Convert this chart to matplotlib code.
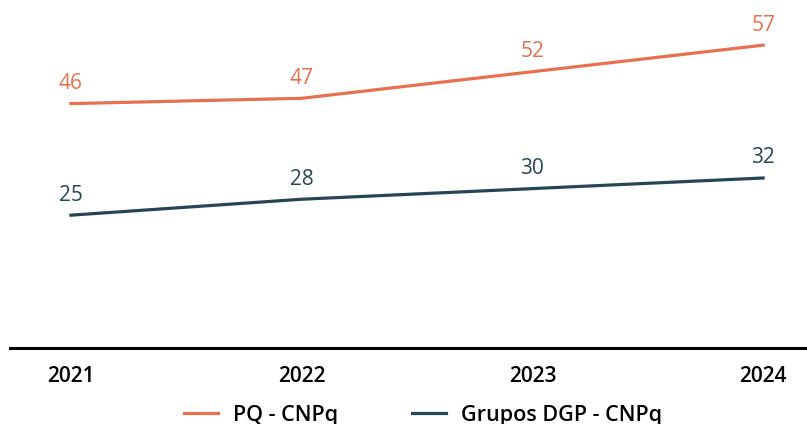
import numpy as np
import matplotlib.pyplot as plt

plt.rcParams['font.family'] = ['Open Sans', 'DejaVu Sans']

years = ["2021", "2022", "2023", "2024"]
pq = [46, 47, 52, 57]
dgp = [25, 28, 30, 32]

orange = "#E8704F"
navy = "#274655"

fig = plt.figure(figsize=(8.07, 4.24), dpi=100)
ax = fig.add_axes([10/807, 1 - 348/424, 1 - 10/807, 348/424])

x = np.arange(len(years))
ax.plot(x, pq, color=orange, lw=2.3, label="PQ - CNPq")
ax.plot(x, dgp, color=navy, lw=2.3, label="Grupos DGP - CNPq")

for i in range(len(years)):
    ax.annotate(str(pq[i]), (x[i], pq[i]), xytext=(0, 14.5), textcoords="offset points",
                ha="center", va="center", color=orange, fontsize=15, fontweight="medium")
    ax.annotate(str(dgp[i]), (x[i], dgp[i]), xytext=(0, 14.5), textcoords="offset points",
                ha="center", va="center", color=navy, fontsize=15, fontweight="medium")

ax.set_xlim(-0.264, 3.19)
ax.set_ylim(0, 65.5)
ax.set_xticks(x)
ax.set_xticklabels(years, fontsize=15, fontweight="semibold", color="black")
ax.tick_params(axis="x", length=0, pad=13)
ax.set_yticks([])
for s in ["top", "right", "left"]:
    ax.spines[s].set_visible(False)
ax.spines["bottom"].set_linewidth(2.2)
ax.spines["bottom"].set_color("black")

fig.legend(loc="center", bbox_to_anchor=(423/807, 1 - 415/424), ncol=2, frameon=False,
           prop={"size": 15.5, "weight": "semibold"}, handlelength=1.6, columnspacing=3.4,
           handletextpad=0.7)

fig.savefig("out.png", dpi=100)
